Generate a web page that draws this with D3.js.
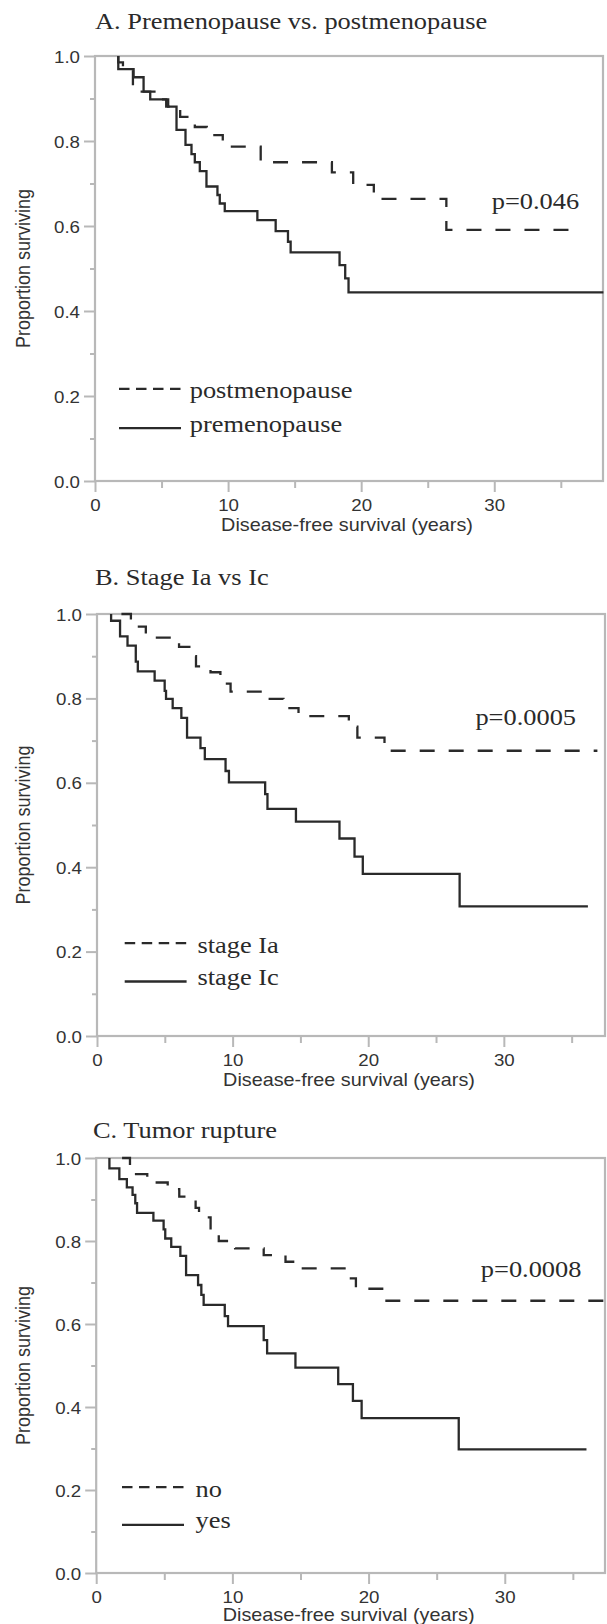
<!DOCTYPE html>
<html>
<head>
<meta charset="utf-8">
<script src="https://cdn.jsdelivr.net/npm/d3@7"></script>
<style>
  body { margin: 0; background: #fff; }
  svg { display: block; }
</style>
</head>
<body>
<div id="chart"></div>
<script>
// ---- data ----
const panelTitles = ["A. Premenopause vs. postmenopause", "B. Stage Ia vs Ic", "C. Tumor rupture"];
const pValues = ["p=0.046", "p=0.0005", "p=0.0008"];
const legendLabels = [["postmenopause", "premenopause"], ["stage Ia", "stage Ic"], ["no", "yes"]];
const xAxisTitle = "Disease-free survival (years)";
const yAxisTitle = "Proportion surviving";

const yTicks = [0, 0.2, 0.4, 0.6, 0.8, 1.0];
const yMinorTicks = [0.1, 0.3, 0.5, 0.7, 0.9];
const xTicks = [0, 10, 20, 30];
const xMinorTicks = [5, 15, 25, 35];

// [years, proportion surviving]
const postmenopause = [[1.75, 1], [1.75, 0.985], [2.1, 0.967], [2.85, 0.916], [4.85, 0.898], [5.5, 0.881],
  [6.4, 0.857], [7.5, 0.833], [8.4, 0.814], [9.6, 0.787], [12.45, 0.75], [17.8, 0.726], [19.4, 0.697],
  [20.95, 0.664], [26.4, 0.591], [36.3, 0.591]];
const premenopause = [[1.75, 1], [1.75, 0.969], [2.9, 0.95], [3.65, 0.916], [4.15, 0.898], [5.35, 0.881],
  [6.125, 0.826], [6.8, 0.791], [7.25, 0.769], [7.5, 0.75], [7.875, 0.729], [8.375, 0.693], [9.2, 0.673],
  [9.375, 0.653], [9.75, 0.635], [12.2, 0.614], [13.575, 0.588], [14.5, 0.563], [14.7, 0.538],
  [18.375, 0.508], [18.8, 0.477], [19.05, 0.444], [38.2, 0.444]];

const stageIa = [[1.8, 1], [2.5, 0.97], [3.6, 0.944], [6.05, 0.922], [7.0, 0.9], [7.3, 0.876], [8.37, 0.862],
  [9.1, 0.835], [9.85, 0.816], [12.6, 0.799], [13.75, 0.777], [14.86, 0.758], [18.57, 0.733], [19.2, 0.707],
  [21.2, 0.676], [36.9, 0.676]];
const stageIc = [[1.04, 1], [1.04, 0.984], [1.7, 0.947], [2.25, 0.925], [2.86, 0.887], [3.01, 0.864],
  [4.25, 0.842], [4.99, 0.818], [5.09, 0.799], [5.58, 0.777], [6.22, 0.754], [6.64, 0.707], [7.63, 0.682],
  [7.95, 0.656], [9.48, 0.628], [9.73, 0.601], [12.4, 0.573], [12.57, 0.538], [14.67, 0.508],
  [17.88, 0.468], [18.99, 0.425], [19.6, 0.384], [26.74, 0.307], [36.2, 0.307]];

const ruptureNo = [[1.9, 1], [2.48, 0.961], [3.75, 0.941], [5.25, 0.925], [6.1, 0.907], [7.3, 0.88],
  [7.55, 0.857], [8.4, 0.822], [9.0, 0.8], [9.6, 0.788], [10.2, 0.782], [12.3, 0.766], [13.9, 0.75],
  [14.75, 0.734], [18.35, 0.71], [19.07, 0.685], [21.1, 0.656], [37.36, 0.656]];
const ruptureYes = [[0.97, 1], [0.97, 0.975], [1.7, 0.949], [2.25, 0.929], [2.67, 0.911], [2.87, 0.891],
  [3.0, 0.868], [4.2, 0.849], [4.95, 0.828], [5.07, 0.806], [5.51, 0.786], [6.18, 0.764], [6.6, 0.718],
  [7.48, 0.694], [7.72, 0.67], [7.89, 0.646], [9.44, 0.619], [9.68, 0.595], [12.3, 0.561], [12.55, 0.529],
  [14.63, 0.495], [17.77, 0.455], [18.85, 0.415], [19.49, 0.373], [26.62, 0.298], [36.0, 0.298]];

const curves = [[postmenopause, premenopause], [stageIa, stageIc], [ruptureNo, ruptureYes]];

// ---- layout (pixels) ----
const layout = [
  { x0: 95, x1: 603, xMax: 38.17, y1: 56, y0: 481, titleX: 95, titleY: 29, pX: 491.7, pY: 209,
    legLine: [119, 181], legTextX: 189.7, legY: [398.3, 431.7], axisTitleY: 531 },
  { x0: 97, x1: 605, xMax: 37.46, y1: 614, y0: 1036, titleX: 95, titleY: 585, pX: 475.4, pY: 725,
    legLine: [124.7, 186.6], legTextX: 197.4, legY: [952.7, 985], axisTitleY: 1086 },
  { x0: 96.2, x1: 605, xMax: 37.36, y1: 1158, y0: 1573, titleX: 93, titleY: 1138, pX: 480.8, pY: 1277.3,
    legLine: [122, 184], legTextX: 195.5, legY: [1496.7, 1528.3], axisTitleY: 1621 }
];

const SX = 1.1;                 // source figure is slightly stretched horizontally
const SANS = "'Liberation Sans', Arial, Helvetica, sans-serif";
const SERIF = "'Liberation Serif', 'Times New Roman', Times, serif";
const AXIS_GREY = "#b8b8b8";
const INK = "#2a2a2a";

const svg = d3.select("#chart").append("svg")
  .attr("width", 607)
  .attr("height", 1624);

// text with horizontal stretch
function stext(g, x, y, str, font, size, anchor) {
  return g.append("text")
    .attr("transform", `translate(${x},${y}) scale(${SX},1)`)
    .attr("text-anchor", anchor || "start")
    .attr("font-family", font)
    .attr("font-size", size)
    .attr("fill", "#333")
    .text(str);
}

layout.forEach((p, i) => {
  const x = d3.scaleLinear().domain([0, p.xMax]).range([p.x0, p.x1]);
  const y = d3.scaleLinear().domain([0, 1]).range([p.y0, p.y1]);
  const g = svg.append("g");

  // minor ticks
  g.append("g")
    .attr("transform", `translate(0,${p.y0})`)
    .call(d3.axisBottom(x).tickValues(xMinorTicks).tickSize(7).tickFormat(""))
    .call(s => s.select(".domain").remove());
  g.append("g")
    .attr("transform", `translate(${p.x0},0)`)
    .call(d3.axisLeft(y).tickValues(yMinorTicks).tickSize(5).tickFormat(""))
    .call(s => s.select(".domain").remove());

  // major ticks
  const xa = g.append("g")
    .attr("transform", `translate(0,${p.y0})`)
    .call(d3.axisBottom(x).tickValues(xTicks).tickSize(11).tickFormat(d3.format("d")))
    .call(s => s.select(".domain").remove());
  xa.selectAll(".tick text")
    .attr("y", 30).attr("dy", null)
    .attr("transform", `scale(${SX},1)`);

  const ya = g.append("g")
    .attr("transform", `translate(${p.x0},0)`)
    .call(d3.axisLeft(y).tickValues(yTicks).tickSize(11).tickFormat(d3.format(".1f")))
    .call(s => s.select(".domain").remove());
  ya.selectAll(".tick text")
    .attr("x", -15 / SX).attr("dy", 6)
    .attr("transform", `scale(${SX},1)`);

  g.selectAll(".tick line").attr("stroke", AXIS_GREY).attr("stroke-width", 2);
  g.selectAll(".tick text")
    .attr("fill", "#333")
    .attr("font-family", SANS)
    .attr("font-size", 17);

  // frame
  g.append("rect")
    .attr("x", p.x0).attr("y", p.y1)
    .attr("width", p.x1 - p.x0).attr("height", p.y0 - p.y1)
    .attr("fill", "none")
    .attr("stroke", AXIS_GREY)
    .attr("stroke-width", 2.2);

  // survival curves
  const line = d3.line()
    .x(d => x(d[0]))
    .y(d => y(d[1]))
    .curve(d3.curveStepAfter);

  g.append("path")
    .datum(curves[i][0])
    .attr("d", line)
    .attr("fill", "none")
    .attr("stroke", INK)
    .attr("stroke-width", 2.3)
    .attr("stroke-dasharray", "15,14");

  g.append("path")
    .datum(curves[i][1])
    .attr("d", line)
    .attr("fill", "none")
    .attr("stroke", INK)
    .attr("stroke-width", 2.3);

  // titles and labels
  stext(g, p.titleX, p.titleY, panelTitles[i], SERIF, 24).attr("fill", INK);
  stext(g, p.pX, p.pY, pValues[i], SERIF, 24).attr("fill", INK);
  stext(g, (p.x0 + p.x1) / 2 - 2, p.axisTitleY, xAxisTitle, SANS, 18, "middle");

  g.append("text")
    .attr("transform", `translate(30,${(p.y0 + p.y1) / 2}) scale(${SX},1) rotate(-90)`)
    .attr("text-anchor", "middle")
    .attr("font-family", SANS)
    .attr("font-size", 18)
    .attr("fill", "#333")
    .text(yAxisTitle);

  // legend
  g.append("line")
    .attr("x1", p.legLine[0]).attr("x2", p.legLine[1])
    .attr("y1", p.legY[0] - 9.5).attr("y2", p.legY[0] - 9.5)
    .attr("stroke", INK).attr("stroke-width", 2.3)
    .attr("stroke-dasharray", "10.5,6.5");
  g.append("line")
    .attr("x1", p.legLine[0]).attr("x2", p.legLine[1])
    .attr("y1", p.legY[1] - 3.5).attr("y2", p.legY[1] - 3.5)
    .attr("stroke", INK).attr("stroke-width", 2.3);
  stext(g, p.legTextX, p.legY[0], legendLabels[i][0], SERIF, 24).attr("fill", INK);
  stext(g, p.legTextX, p.legY[1], legendLabels[i][1], SERIF, 24).attr("fill", INK);
});
</script>
</body>
</html>
